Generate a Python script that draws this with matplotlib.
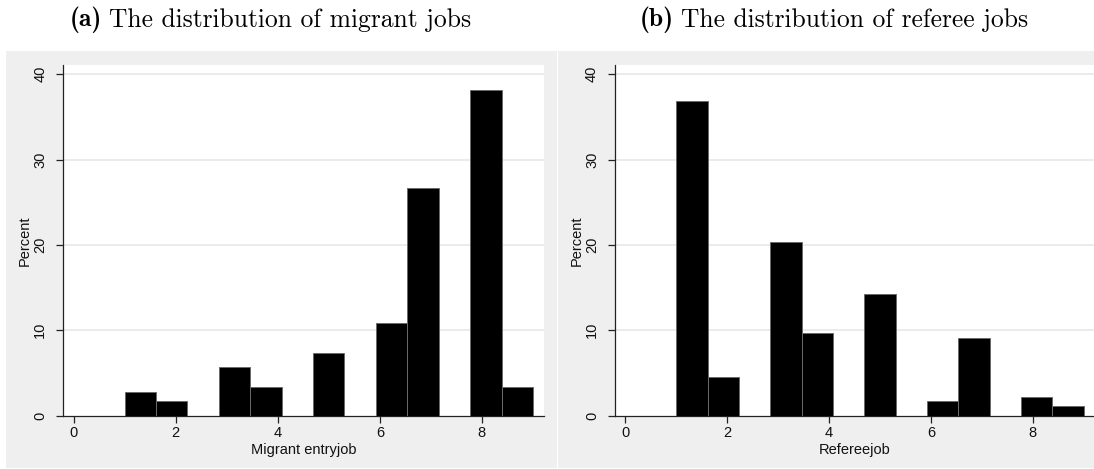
import numpy as np
import matplotlib
matplotlib.use("Agg")
import matplotlib.pyplot as plt
from matplotlib.patches import Rectangle

plt.rcParams['font.family'] = ['Liberation Sans', 'DejaVu Sans']

# ---- data ----
bin_start = 1.0
bin_end = 9.0
n_bins = 13
migrant_pct = [2.8, 1.7, 0.0, 5.7, 3.4, 0.0, 7.4, 0.0, 10.8, 26.7, 0.0, 38.1, 3.4]
referee_pct = [36.9, 4.5, 0.0, 20.4, 9.7, 0.0, 14.2, 0.0, 1.7, 9.1, 0.0, 2.2, 1.1]
xticks = [0, 2, 4, 6, 8]
yticks = [0, 10, 20, 30, 40]
title_tags = ["(a)", "(b)"]
title_texts = ["The distribution of migrant jobs", "The distribution of referee jobs"]
xlabels = ["Migrant entryjob", "Refereejob"]
ylabel = "Percent"

W, H = 1094, 469
fig = plt.figure(figsize=(W / 100, H / 100), dpi=100)
fig.patch.set_facecolor('white')

def fx(px):
    return px / W

def fy(py):
    return 1 - py / H

grey = '#efefef'
panels = [(6, 557), (558, 1094)]
for (x0, x1) in panels:
    fig.patches.append(Rectangle((fx(x0), fy(468)), fx(x1 - x0), (468 - 51) / H,
                                 transform=fig.transFigure, facecolor=grey,
                                 edgecolor='none', zorder=-5))

axes_px = [(63.3, 543.7), (615.0, 1094.5)]
title_cx = [270, 834]
top_px, bot_px = 65.0, 415.7
edges = np.linspace(bin_start, bin_end, n_bins + 1)
widths = np.diff(edges)

renderer = fig.canvas.get_renderer()
title_fs = 18.4
lab_fs = 10.5

for i, (data, (l, r)) in enumerate(zip([migrant_pct, referee_pct], axes_px)):
    ax = fig.add_axes([fx(l), fy(bot_px), fx(r - l), (bot_px - top_px) / H])
    ax.set_facecolor('white')
    ax.bar(edges[:-1], data, width=widths, align='edge', color='black',
           edgecolor='#6a6a6a', linewidth=0.7, zorder=3)
    ax.set_xlim(-0.2, 9.21)
    ax.set_ylim(0, 41.07)
    ax.set_xticks(xticks)
    ax.set_yticks(yticks)
    ax.set_yticklabels([str(t) for t in yticks], rotation=90, va='center')
    for yv in yticks[1:]:
        ax.axhline(yv, color='#e8e8e8', linewidth=1.2, zorder=1)
    for s in ['top', 'right']:
        ax.spines[s].set_visible(False)
    for s in ['left', 'bottom']:
        ax.spines[s].set_color('#222222')
        ax.spines[s].set_linewidth(0.9)
    ax.tick_params(axis='both', direction='out', length=5, width=0.9,
                   color='#222222', labelsize=lab_fs, labelcolor='#111111')
    ax.tick_params(axis='x', pad=2.5)
    ax.tick_params(axis='y', pad=6.5)
    ax.set_xlabel(xlabels[i], fontsize=lab_fs, color='#111111', labelpad=2)
    ax.set_ylabel(ylabel, fontsize=lab_fs, color='#111111', labelpad=1)

    # title: bold tag + roman text
    cx = title_cx[i]
    t1 = fig.text(0, fy(20), title_tags[i], ha='left', va='center',
                  fontsize=title_fs, family='cmb10')
    t2 = fig.text(0, fy(20), title_texts[i], ha='left', va='center',
                  fontsize=title_fs, family='cmr10')
    w1 = t1.get_window_extent(renderer).width
    w2 = t2.get_window_extent(renderer).width
    gap = 7
    start = cx - (w1 + gap + w2) / 2
    t1.set_x(fx(start))
    t2.set_x(fx(start + w1 + gap))

fig.savefig('out.png', dpi=100, facecolor='white')
